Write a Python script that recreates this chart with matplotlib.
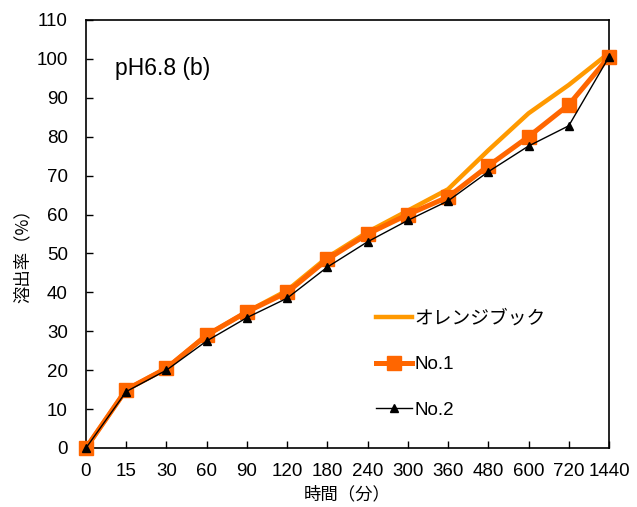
import matplotlib.pyplot as plt
import numpy as np

plt.rcParams['font.family'] = ['Liberation Sans', 'Noto Sans CJK JP', 'DejaVu Sans']

# Sampling times (minutes), categorical axis
times = ["0", "15", "30", "60", "90", "120", "180", "240", "300", "360", "480", "600", "720", "1440"]

# Dissolution (%)
orange_book = [0, 15, 20.5, 29, 35, 40.5, 49, 55.5, 61, 66.5, 76.5, 86, 93.3, 101.5]
no1 = [0, 15, 20.5, 29, 35, 40, 48.5, 55, 60, 64.5, 72.5, 80, 88.2, 100.5]
no2 = [0, 14.5, 20, 27.5, 33.5, 38.5, 46.5, 53, 58.5, 63.5, 71, 77.6, 82.8, 100.5]

x = np.arange(len(times))

fig = plt.figure(figsize=(6.37, 5.07), dpi=100)
ax = fig.add_axes([0.135, 0.1164, 0.821, 0.8442])

ax.plot(x, orange_book, color='#FF9900', lw=3.2, label='オレンジブック', zorder=2)
ax.plot(x, no1, color='#FF6600', lw=3.6, marker='s', markersize=10, label='No.1', zorder=3)
ax.plot(x, no2, color='black', lw=1, marker='^', markersize=6, label='No.2', zorder=4)

ax.set_xlim(0, 13)
ax.set_ylim(0, 110)
ax.set_yticks(np.arange(0, 111, 10))
ax.set_xticks(x)
ax.set_xticklabels(times)
ax.tick_params(axis='both', direction='in', length=5, labelsize=13.5, width=1)
ax.tick_params(axis='x', pad=11)
ax.tick_params(axis='y', pad=13)
for s in ax.spines.values():
    s.set_linewidth(1.2)
for line in ax.get_lines():
    line.set_clip_on(False)

ax.set_xlabel('時間（分）', fontsize=12.5, family=['Noto Sans CJK JP'])
ax.set_ylabel('溶出率（%）', fontsize=12.5, family=['Noto Sans CJK JP'])
ax.xaxis.set_label_coords(0.5, -0.087)
ax.yaxis.set_label_coords(-0.103, 0.458)

ax.text(0.055, 0.872, 'pH6.8 (b)', transform=ax.transAxes, fontsize=16.5)

leg = ax.legend(loc='upper left', bbox_to_anchor=(0.555, 0.323), frameon=False,
                fontsize=13.5, handlelength=1.9, handletextpad=0.15, labelspacing=1.53,
                borderpad=0, borderaxespad=0)
for t in leg.get_texts():
    t.set_family(['Liberation Sans', 'Noto Sans CJK JP'])

fig.savefig('out.png', dpi=100)
